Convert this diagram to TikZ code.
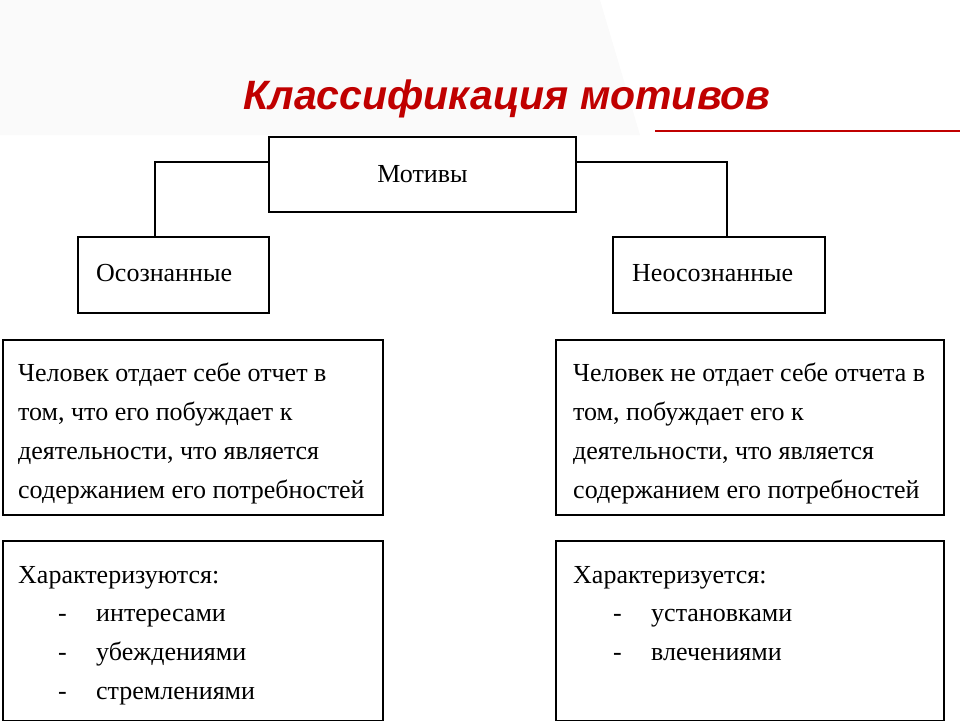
\documentclass[tikz,border=0pt]{standalone}
\usepackage{fontspec}
\setmainfont{Liberation Serif}
\newfontfamily\titlefont{Liberation Sans}
\usetikzlibrary{positioning}
\definecolor{titlered}{RGB}{192,0,0}
\tikzset{
  box/.style={draw, line width=2.2pt, inner sep=0pt},
  txt/.style={anchor=base west, inner sep=0pt, font=\fontsize{26}{30}\selectfont},
  link/.style={line width=2.2pt}
}
\begin{document}
\begin{tikzpicture}[x=1pt,y=-1pt]
  \useasboundingbox (0,0) rectangle (960,720);
  % faint background
  \fill[gray!4] (0,0) -- (600,0) -- (640,135) -- (0,135) -- cycle;
  \draw[titlered, line width=1.2pt] (655,131) -- (960,131);

  % title
  \node[font=\titlefont\bfseries\itshape\fontsize{41}{48}\selectfont, text=titlered] (title) at (507,99) {Классификация мотивов};

  % boxes
  \node[box, minimum width=307pt, minimum height=75pt] (motiv) at (422.5,174.5) {};
  \node[txt, anchor=center] at (motiv) {Мотивы};
  \node[box, minimum width=191pt, minimum height=76pt] (consc) at (173.5,275) {};
  \node[txt] at (96,281) {Осознанные};
  \node[box, minimum width=212pt, minimum height=76pt] (uncon) at (719,275) {};
  \node[txt] at (632,281) {Неосознанные};

  % connectors
  \draw[link] (motiv.west |- 0,162) -| (consc.north -| 155,0);
  \draw[link] (motiv.east |- 0,162) -| (uncon.north -| 727,0);

  % description boxes
  \node[box, minimum width=380pt, minimum height=175pt] (ldesc) at (193,427.5) {};
  \node[box, minimum width=388pt, minimum height=175pt] (rdesc) at (750,427.5) {};
  \node[txt] at (18,381) {Человек отдает себе отчет в};
  \node[txt] at (18,420) {том, что его побуждает к};
  \node[txt] at (18,459) {деятельности, что является};
  \node[txt] at (18,498) {содержанием его потребностей};
  \node[txt] at (573,381) {Человек не отдает себе отчета в};
  \node[txt] at (573,420) {том, побуждает его к};
  \node[txt] at (573,459) {деятельности, что является};
  \node[txt] at (573,498) {содержанием его потребностей};

  % characteristic boxes
  \node[box, minimum width=380pt, minimum height=180pt] (lchar) at (193,631) {};
  \node[box, minimum width=388pt, minimum height=180pt] (rchar) at (750,631) {};
  \node[txt] at (18,583) {Характеризуются:};
  \foreach \y/\w in {621/интересами, 660/убеждениями, 699/стремлениями}
    {\node[txt] at (58,\y) {-}; \node[txt] at (96,\y) {\w};}
  \node[txt] at (573,583) {Характеризуется:};
  \foreach \y/\w in {621/установками, 660/влечениями}
    {\node[txt] at (613,\y) {-}; \node[txt] at (651,\y) {\w};}
\end{tikzpicture}
\end{document}
